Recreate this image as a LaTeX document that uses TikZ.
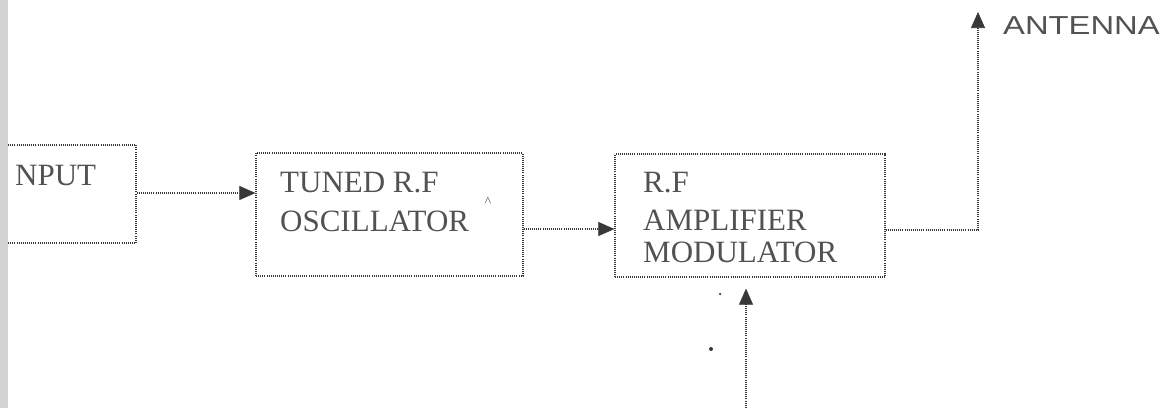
\documentclass[tikz,border=0pt]{standalone}
\usepackage{fontspec}
\setmainfont{Liberation Serif}
\newfontfamily\labelsans{Liberation Sans}
\usetikzlibrary{arrows.meta}
\definecolor{ink}{gray}{0.22}
\definecolor{textink}{gray}{0.32}
\tikzset{
  x=1pt, y=1pt,
  dotline/.style={ink, line width=1.2pt, dash pattern=on 1pt off 1.1pt},
  blockbox/.style={dotline, draw, rectangle, inner sep=0pt},
  flow/.style={dotline, -{Triangle[length=16pt,width=14pt,fill=ink,line width=0.6pt]}},
  blocktext/.style={textink, anchor=base west, inner sep=0pt, font=\fontsize{31}{39}\selectfont},
  antlabel/.style={textink, anchor=base west, inner sep=0pt, font=\labelsans\fontsize{26}{30}\selectfont},
  speck/.style={ink, fill, inner sep=0pt, circle}
}
\begin{document}
\begin{tikzpicture}
\useasboundingbox (0,0) rectangle (1170,-408);

% blocks
\node[blockbox, minimum width=130pt, minimum height=98pt] (input) at (71,-194) {};
\node[blockbox, minimum width=267pt, minimum height=123pt] (tuned) at (389.5,-214.5) {};
\node[blockbox, minimum width=270pt, minimum height=123pt] (rfamp) at (750,-215.5) {};

% block texts
\node[blocktext] (inputtxt) at (15,-185) {NPUT};
\node[blocktext] (tunedA) at (280,-192) {TUNED R.F};
\node[blocktext] (tunedB) at (280,-231) {OSCILLATOR};
\node[textink, inner sep=0pt, font=\fontsize{14}{14}\selectfont] (caret) at (488,-202) {\textasciicircum};
\node[blocktext] (rfA) at (643,-192) {R.F};
\node[blocktext] (rfB) at (643,-230) {AMPLIFIER};
\node[blocktext] (rfC) at (643,-262) {MODULATOR};

% antenna output
\coordinate (ant) at (978,-12);
\coordinate (bend) at (978,-230);
\node[antlabel] (antlabel) at (1003,-34) {\scalebox{1.26}[1]{ANTENNA}};

% modulating input from below
\coordinate (modsrc) at (746,-412);

% connectors
\draw[flow] (input.east |- 0,-193) -- (tuned.west |- 0,-193);
\draw[flow] ([yshift=-14.5pt]tuned.east) -- ([yshift=-14.5pt]tuned.east -| rfamp.west);
\draw[flow] ([yshift=-14.5pt]rfamp.east) -- (bend) -- (ant);
\draw[flow] (modsrc) -- ([yshift=-11pt]rfamp.south -| modsrc);

% small specks beside the lower arrow
\node[speck, minimum size=2.5pt] (speckA) at (720,-294) {};
\node[speck, minimum size=4pt] (speckB) at (711,-349) {};

% shaded strip along the left edge
\fill[gray!35] (0,0) rectangle (8,-408);
\end{tikzpicture}
\end{document}
